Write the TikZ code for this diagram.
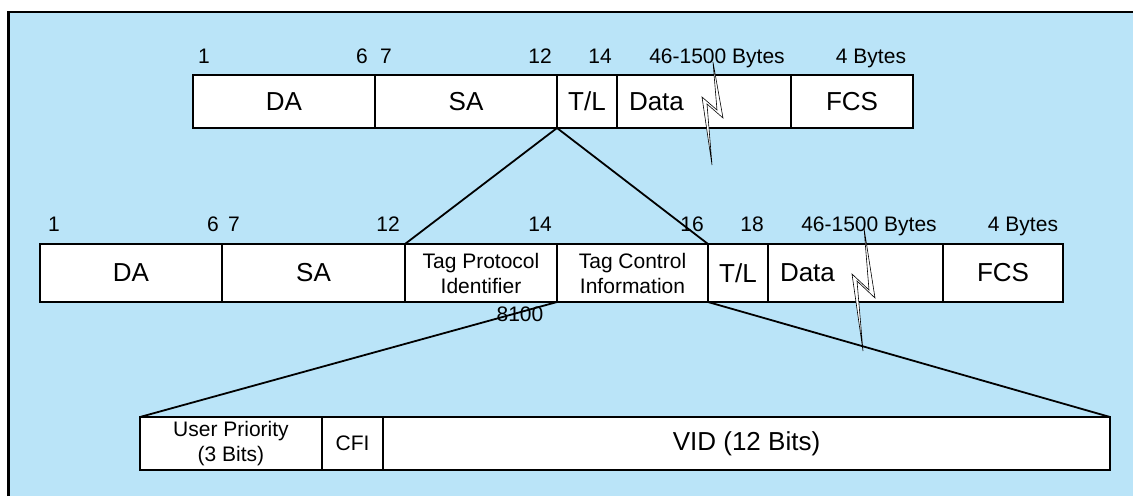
\documentclass[tikz,border=0pt]{standalone}
\usepackage{fontspec}
\setmainfont{Liberation Sans}
\definecolor{bgblue}{RGB}{186,228,248}
\begin{document}
\begin{tikzpicture}[x=1pt,y=-1pt,
  field/.style={draw, fill=white, line width=1.8pt, inner sep=0pt, outer sep=0pt,
    anchor=north west, font=\fontsize{26}{30}\selectfont},
  twoline/.style={field, align=center, font=\fontsize{21}{25}\selectfont},
  num/.style={anchor=base, inner sep=0pt, font=\fontsize{21}{24}\selectfont},
  conn/.style={line width=1.8pt},
  bolt/.style={draw, fill=white, line width=0.6pt, line join=miter}]
\useasboundingbox (0,0) rectangle (1133,496);
\fill[bgblue] (8,12) rectangle (1133,496);
\draw[line width=2.4pt] (8.3,496) -- (8.3,11.7) -- (1133,11.7);

% top frame
\node[field, minimum width=182pt, minimum height=53pt] (tDA) at (193,75) {DA};
\node[field, minimum width=182pt, minimum height=53pt] (tSA) at (375,75) {SA};
\node[field, minimum width=60pt, minimum height=53pt] (tTL) at (557,75) {T/L};
\node[field, minimum width=174pt, minimum height=53pt, text width=150pt, inner xsep=12pt, align=left] (tData) at (617,75) {Data};
\node[field, minimum width=122pt, minimum height=53pt] (tFCS) at (791,75) {FCS};

\node[num] (tn1) at (204,63) {1};
\node[num] (tn6) at (362,63) {6};
\node[num] (tn7) at (386,63) {7};
\node[num] (tn12) at (540,63) {12};
\node[num] (tn14) at (600,63) {14};
\node[num] (tnD) at (717,63) {46-1500 Bytes};
\node[num] (tnF) at (871,63) {4 Bytes};

% middle frame
\node[field, minimum width=182pt, minimum height=58pt] (mDA) at (40,244) {DA};
\node[field, minimum width=183pt, minimum height=58pt] (mSA) at (222,244) {SA};
\node[twoline, minimum width=152pt, minimum height=58pt] (mTPI) at (405,244) {Tag Protocol\\Identifier};
\node[twoline, minimum width=151pt, minimum height=58pt] (mTCI) at (557,244) {Tag Control\\Information};
\node[field, minimum width=60pt, minimum height=58pt] (mTL) at (708,244) {T/L};
\node[field, minimum width=175pt, minimum height=58pt, text width=151pt, inner xsep=12pt, align=left] (mData) at (768,244) {Data};
\node[field, minimum width=120pt, minimum height=58pt] (mFCS) at (943,244) {FCS};

\node[num] (mn1) at (54,231) {1};
\node[num] (mn6) at (213,231) {6};
\node[num] (mn7) at (234,231) {7};
\node[num] (mn12) at (388,231) {12};
\node[num] (mn14) at (540,231) {14};
\node[num] (mn16) at (692,231) {16};
\node[num] (mn18) at (752,231) {18};
\node[num] (mnD) at (869,231) {46-1500 Bytes};
\node[num] (mnF) at (1023,231) {4 Bytes};

% bottom frame
\node[twoline, minimum width=182pt, minimum height=53pt] (bUP) at (140,417) {User Priority\\(3 Bits)};
\node[twoline, minimum width=61pt, minimum height=53pt] (bCFI) at (322,417) {CFI};
\node[field, minimum width=727pt, minimum height=53pt] (bVID) at (383,417) {VID (12 Bits)};

% connectors
\draw[conn] (tSA.south east) -- (mTPI.north west);
\draw[conn] (tSA.south east) -- (mTCI.north east);
\draw[conn] (mTPI.south east) -- (bUP.north west);
\draw[conn] (mTCI.south east) -- (bVID.north east);

\node[num, anchor=center] (n8100) at (520,314) {8100};

% break marks
\draw[bolt] (713,62) -- (723,118) -- (707,104) -- (712,165) -- (702,97) -- (717,110) -- cycle;
\draw[bolt] (864,228) -- (875,298) -- (857,281) -- (863,351) -- (852,274) -- (869,290) -- cycle;
\end{tikzpicture}
\end{document}
